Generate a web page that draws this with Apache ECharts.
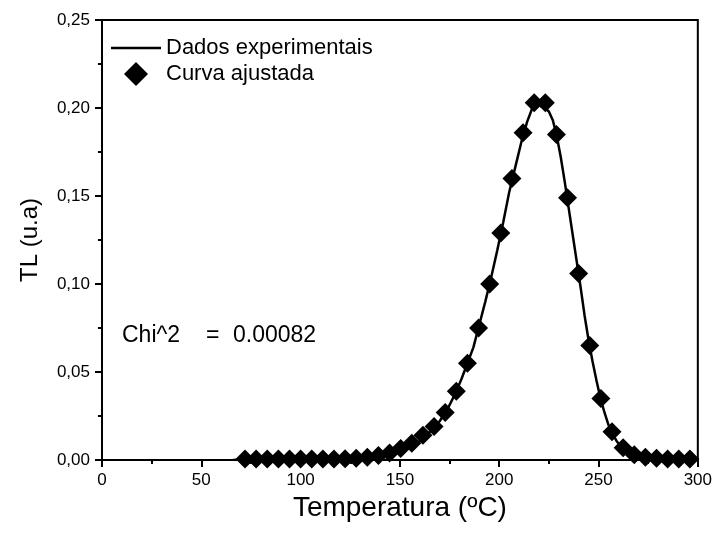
<!DOCTYPE html>
<html>
  <head>
    <meta charset="utf-8" />
    <title>TL glow curve</title>
    <style>
      html, body { margin: 0; padding: 0; background: #fff; }
      #main { width: 715px; height: 533px; }
    </style>
  </head>
  <body>
    <script src="https://cdn.jsdelivr.net/npm/echarts@6/dist/echarts.min.js"></script>
    <div id="main"></div>
    <script>
      var expTemp = [66, 70, 80, 90, 100, 110, 120, 130, 136, 142, 146, 150, 154, 158, 162, 166, 170,
        174, 178, 181, 184, 187, 190, 193, 196, 199, 202, 205, 208, 211, 214, 217, 219, 221, 223,
        225, 227, 229, 231, 233, 235, 237, 239, 241, 243, 245, 247, 249, 251, 253, 255, 257, 259,
        261, 263, 266, 270, 275, 280, 290, 300];
      var expTL = [0, 0.0003, 0.0004, 0.0004, 0.0005, 0.0005, 0.0007, 0.001, 0.0015, 0.0025, 0.0035,
        0.005, 0.0065, 0.009, 0.0125, 0.017, 0.022, 0.029, 0.038, 0.046, 0.055, 0.064, 0.077, 0.09,
        0.104, 0.119, 0.135, 0.152, 0.166, 0.18, 0.192, 0.201, 0.204, 0.201, 0.2, 0.198, 0.193,
        0.184, 0.172, 0.158, 0.143, 0.128, 0.113, 0.098, 0.082, 0.068, 0.056, 0.045, 0.035, 0.027,
        0.02, 0.015, 0.011, 0.008, 0.0055, 0.004, 0.0025, 0.0015, 0.001, 0.0008, 0.0005];

      // fitted curve (diamonds)
      var fitTemp = [72, 77.6, 83.2, 88.8, 94.4, 100, 105.6, 111.2, 116.8, 122.4, 128, 133.6, 139.2,
        144.8, 150.4, 156, 161.6, 167.2, 172.8, 178.4, 184, 189.6, 195.2, 200.8, 206.4, 212, 217.6,
        223.2, 228.8, 234.4, 240, 245.6, 251.2, 256.8, 262.4, 268, 273.6, 279.2, 284.8, 290.4, 296];
      var fitTL = [0.0005, 0.0005, 0.0005, 0.0005, 0.0005, 0.0005, 0.0005, 0.0005, 0.0006, 0.0007,
        0.001, 0.0015, 0.0025, 0.004, 0.0066, 0.0095, 0.014, 0.019, 0.027, 0.039, 0.055, 0.075,
        0.1, 0.129, 0.16, 0.186, 0.203, 0.203, 0.185, 0.149, 0.106, 0.065, 0.035, 0.016, 0.007,
        0.003, 0.0015, 0.001, 0.0005, 0.0005, 0.0005];

      var chiLabel = "Chi^2";
      var chiEq = "=";
      var chiValue = "0.00082";

      var font = "Liberation Sans, Arial, sans-serif";

      function pairs(xs, ys) {
        return xs.map(function (x, i) { return [x, ys[i]]; });
      }

      var chart = echarts.init(document.getElementById("main"), null, { renderer: "canvas" });

      var option = {
        animation: false,
        backgroundColor: "#fff",
        grid: { left: 102, right: 17, top: 20, bottom: 73, show: true, borderColor: "#000", borderWidth: 2 },
        legend: {
          left: 111, top: 37, orient: "vertical", padding: 0,
          itemWidth: 50, itemHeight: 24, itemGap: 3,
          symbolKeepAspect: true,
          textStyle: { fontFamily: font, fontSize: 22, color: "#000" },
          data: [
            { name: "Dados experimentais", icon: "path://M0,0H50V2.5H0Z" },
            { name: "Curva ajustada", icon: "path://M10,0L20,10L10,20L0,10Z" }
          ]
        },
        xAxis: {
          type: "value", min: 0, max: 300, interval: 50,
          name: "Temperatura (ºC)", nameLocation: "middle", nameGap: 25,
          nameTextStyle: { fontFamily: font, fontSize: 28, color: "#000" },
          axisLine: { lineStyle: { color: "#000", width: 2 } },
          axisTick: { length: 7, lineStyle: { color: "#000", width: 2 } },
          minorTick: { show: true, splitNumber: 2, length: 4, lineStyle: { color: "#000", width: 2 } },
          splitLine: { show: false },
          axisLabel: { fontFamily: font, fontSize: 17, color: "#000", margin: 12 }
        },
        yAxis: {
          type: "value", min: 0, max: 0.25, interval: 0.05,
          name: "TL (u.a)", nameLocation: "middle", nameGap: 60,
          nameTextStyle: { fontFamily: font, fontSize: 24, color: "#000" },
          axisLine: { lineStyle: { color: "#000", width: 2 } },
          axisTick: { length: 7, lineStyle: { color: "#000", width: 2 } },
          minorTick: { show: true, splitNumber: 2, length: 4, lineStyle: { color: "#000", width: 2 } },
          splitLine: { show: false },
          axisLabel: {
            fontFamily: font, fontSize: 17, color: "#000", margin: 12,
            formatter: function (v) { return v.toFixed(2).replace(".", ","); }
          }
        },
        series: [
          {
            name: "Dados experimentais", type: "line", data: pairs(expTemp, expTL),
            symbol: "none", lineStyle: { color: "#000", width: 2.5 }, itemStyle: { color: "#000" }, z: 2
          },
          {
            name: "Curva ajustada", type: "scatter", data: pairs(fitTemp, fitTL),
            symbol: "diamond", symbolSize: 19, itemStyle: { color: "#000", opacity: 1 }, z: 3
          }
        ],
        graphic: [
          { type: "text", left: 122, top: 324, style: { text: chiLabel, font: "23px " + font, fill: "#000" } },
          { type: "text", left: 206, top: 324, style: { text: chiEq, font: "23px " + font, fill: "#000" } },
          { type: "text", left: 233, top: 324, style: { text: chiValue, font: "23px " + font, fill: "#000" } }
        ]
      };

      chart.setOption(option);
    </script>
  </body>
</html>
